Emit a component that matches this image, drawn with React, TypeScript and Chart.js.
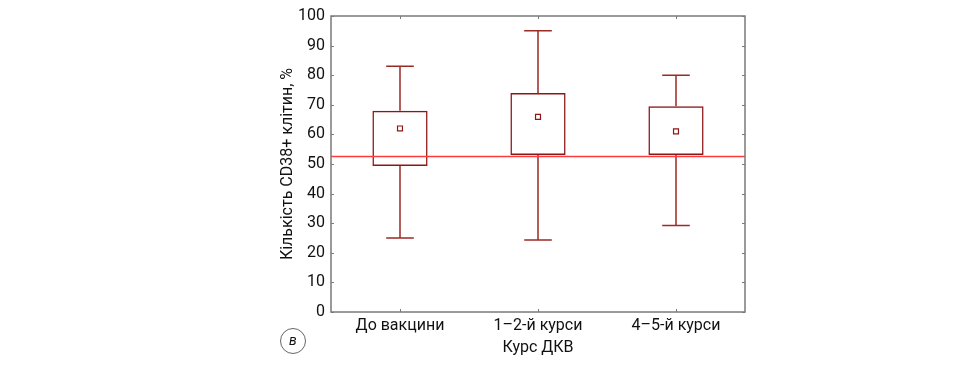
import React, { useEffect, useRef } from "react";
import { Chart, registerables } from "chart.js";

Chart.register(...registerables);

const categories = ["До вакцини", "1–2-й курси", "4–5-й курси"];
const q1 = [49.3, 53, 53];
const q3 = [68, 74, 69.5];
const whiskerMin = [25, 24.3, 29.2];
const whiskerMax = [83, 95, 80];
const means = [62, 65.9, 61];
const referenceValue = 52.5;
const yTickValues = [0, 10, 20, 30, 40, 50, 60, 70, 80, 90, 100];

const BOX_COLOR = "#8e1616";
const WHISKER_COLOR = "#9a2a24";
const FRAME_COLOR = "#7a7a7a";
const REF_COLOR = "#ff3b3b";

const boxPlugin = {
  id: "boxExtras",
  beforeDatasetsDraw(chart: any) {
    const { ctx, scales } = chart;
    const x = scales.x;
    const y = scales.y;
    const catW = x.width / categories.length;
    const capHalf = catW * 0.1;
    ctx.save();
    ctx.strokeStyle = WHISKER_COLOR;
    ctx.lineWidth = 1.5;
    for (let i = 0; i < categories.length; i++) {
      const cx = x.getPixelForValue(i);
      const yMax = y.getPixelForValue(whiskerMax[i]);
      const yMin = y.getPixelForValue(whiskerMin[i]);
      const yQ1 = y.getPixelForValue(q1[i]);
      const yQ3 = y.getPixelForValue(q3[i]);
      ctx.beginPath();
      ctx.moveTo(cx, yQ3);
      ctx.lineTo(cx, yMax);
      ctx.moveTo(cx, yQ1);
      ctx.lineTo(cx, yMin);
      ctx.moveTo(cx - capHalf, yMax);
      ctx.lineTo(cx + capHalf, yMax);
      ctx.moveTo(cx - capHalf, yMin);
      ctx.lineTo(cx + capHalf, yMin);
      ctx.stroke();
    }
    ctx.restore();
  },
  afterDatasetsDraw(chart: any) {
    const { ctx, chartArea, scales } = chart;
    const y = scales.y;
    const x = scales.x;
    ctx.save();
    const ry = y.getPixelForValue(referenceValue);
    ctx.strokeStyle = REF_COLOR;
    ctx.lineWidth = 1.5;
    ctx.beginPath();
    ctx.moveTo(chartArea.left, ry);
    ctx.lineTo(chartArea.right, ry);
    ctx.stroke();
    ctx.strokeStyle = FRAME_COLOR;
    ctx.lineWidth = 1.5;
    ctx.strokeRect(chartArea.left, chartArea.top, chartArea.right - chartArea.left, chartArea.bottom - chartArea.top);
    ctx.lineWidth = 1;
    ctx.beginPath();
    for (const v of yTickValues) {
      const py = Math.round(y.getPixelForValue(v)) + 0.5;
      ctx.moveTo(chartArea.left, py);
      ctx.lineTo(chartArea.left + 3, py);
      ctx.moveTo(chartArea.right, py);
      ctx.lineTo(chartArea.right - 3, py);
    }
    for (let i = 0; i < categories.length; i++) {
      const px = Math.round(x.getPixelForValue(i)) + 0.5;
      ctx.moveTo(px, chartArea.bottom);
      ctx.lineTo(px, chartArea.bottom - 3);
      ctx.moveTo(px, chartArea.top);
      ctx.lineTo(px, chartArea.top + 3);
    }
    ctx.stroke();
    ctx.restore();
  },
};

export default function App() {
  const canvasRef = useRef<HTMLCanvasElement | null>(null);

  useEffect(() => {
    const canvas = canvasRef.current;
    if (!canvas) return;
    const font = { family: "Roboto", size: 16 };
    const chart = new Chart(canvas, {
      type: "bar",
      data: {
        labels: categories,
        datasets: [
          {
            type: "bar",
            data: categories.map((_, i) => [q1[i], q3[i]]) as any,
            backgroundColor: "rgba(0,0,0,0)",
            borderColor: BOX_COLOR,
            borderWidth: 1.5,
            borderSkipped: false,
            barPercentage: 0.4,
            categoryPercentage: 1,
            order: 2,
          } as any,
          {
            type: "line",
            data: means,
            showLine: false,
            pointStyle: "rect",
            pointRadius: 3.5,
            pointBorderWidth: 1.2,
            pointBorderColor: BOX_COLOR,
            pointBackgroundColor: "#ffffff",
            order: 1,
          } as any,
        ],
      },
      options: {
        responsive: false,
        animation: false,
        events: [],
        layout: { padding: { left: 270, right: 224, top: 16, bottom: 0 } },
        plugins: {
          legend: { display: false },
          tooltip: { enabled: false },
        },
        scales: {
          x: {
            type: "category",
            offset: true,
            grid: { display: false, drawTicks: false },
            border: { display: false },
            ticks: { color: "#111", font, padding: 4, maxRotation: 0 },
            title: {
              display: true,
              text: "Курс ДКВ",
              color: "#111",
              font,
              padding: { top: 0, bottom: 8 },
            },
            afterFit(scale: any) {
              scale.height = 54;
            },
          },
          y: {
            type: "linear",
            min: 0,
            max: 100,
            grid: { display: false, drawTicks: false },
            border: { display: false },
            ticks: { stepSize: 10, color: "#111", font, padding: 6 },
            title: {
              display: true,
              text: "Кількість CD38+ клітин, %",
              color: "#111",
              font,
              padding: { top: 8, bottom: 0 },
            },
            afterFit(scale: any) {
              scale.width = 61;
            },
          },
        },
      } as any,
      plugins: [boxPlugin],
    });
    return () => chart.destroy();
  }, []);

  return (
    <div style={{ position: "fixed", left: 0, top: 0, width: 969, height: 366, background: "#fff" }}>
      <canvas ref={canvasRef} width={969} height={366} style={{ display: "block" }} />
      <div
        style={{
          position: "absolute",
          left: 280,
          top: 328,
          width: 24,
          height: 24,
          borderRadius: "50%",
          border: "1px solid #666",
          fontFamily: "Roboto",
          fontStyle: "italic",
          fontSize: 14,
          lineHeight: "23px",
          textAlign: "center",
          color: "#111",
        }}
      >
        в
      </div>
    </div>
  );
}
